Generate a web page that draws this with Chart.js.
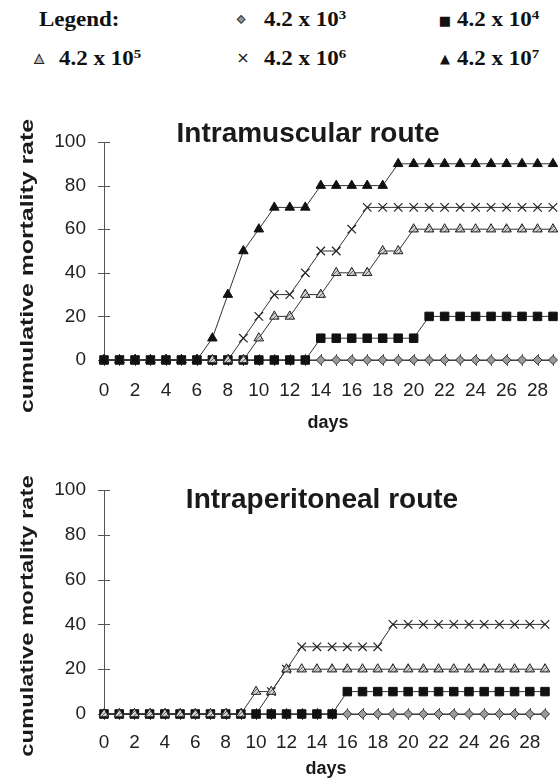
<!DOCTYPE html>
<html>
<head>
<meta charset="utf-8">
<script src="https://cdn.jsdelivr.net/npm/chart.js@4.4.0/dist/chart.umd.min.js"></script>
<style>
  body { margin: 0; background: #fff; }
  #page { position: relative; width: 558px; height: 779px; overflow: hidden; font-family: Arial, "Liberation Sans", sans-serif; color: #222; }
  .abs { position: absolute; white-space: nowrap; }
  .leg { font-family: "Liberation Serif", "Times New Roman", serif; font-weight: bold; font-size: 20px; line-height: 20px; color: #111; transform-origin: left center; transform: translateY(-50%) scaleX(1.15); }
  .leg sup { font-size: 13px; vertical-align: 7px; line-height: 0; }
  .mk { font-family: "DejaVu Sans", sans-serif; line-height: 1; transform: translate(-50%, -50%); }
  .title { font-weight: bold; font-size: 28px; line-height: 28px; color: #1a1a1a; transform: translateX(-50%); }
  .xtitle { font-weight: bold; font-size: 18px; line-height: 18px; color: #1a1a1a; transform: translateX(-50%); }
  .ytitle { font-weight: bold; font-size: 18px; line-height: 18px; color: #1a1a1a; }
  canvas { position: absolute; left: 0; }
</style>
</head>
<body>
<div id="page">
  <div class="abs leg" style="left:39px;top:19px">Legend:</div>
  <div class="abs mk" style="left:241px;top:19px;font-size:10px;color:#999;-webkit-text-stroke:1px #333">&#9670;</div>
  <div class="abs leg" style="left:264px;top:19px">4.2 x 10<sup>3</sup></div>
  <div class="abs mk" style="left:445px;top:20px;font-size:13px;color:#111">&#9632;</div>
  <div class="abs leg" style="left:457px;top:19px">4.2 x 10<sup>4</sup></div>

  <div class="abs mk" style="left:39px;top:58px;font-size:12px;color:#bbb;-webkit-text-stroke:1px #222">&#9650;</div>
  <div class="abs leg" style="left:59px;top:58px">4.2 x 10<sup>5</sup></div>
  <div class="abs mk" style="left:243px;top:58px;font-size:16px;color:#222">&#215;</div>
  <div class="abs leg" style="left:264px;top:58px">4.2 x 10<sup>6</sup></div>
  <div class="abs mk" style="left:445px;top:58px;font-size:13px;color:#111">&#9650;</div>
  <div class="abs leg" style="left:457px;top:58px">4.2 x 10<sup>7</sup></div>

  <canvas id="imChart" width="558" height="330" style="top:100px"></canvas>
  <canvas id="ipChart" width="558" height="329" style="top:450px"></canvas>

  <div class="abs title" style="left:308px;top:119px">Intramuscular route</div>
  <div class="abs title" style="left:322px;top:485px">Intraperitoneal route</div>
  <div class="abs xtitle" style="left:328px;top:413px">days</div>
  <div class="abs xtitle" style="left:326px;top:759px">days</div>
  <div class="abs ytitle" style="left:27px;top:266px;transform:translate(-50%,-50%) rotate(-90deg) scaleX(1.38)">cumulative mortality rate</div>
  <div class="abs ytitle" style="left:27px;top:616px;transform:translate(-50%,-50%) rotate(-90deg) scaleX(1.32)">cumulative mortality rate</div>
</div>
<script>
// days after infection (x categories)
const days = [0, 1, 2, 3, 4, 5, 6, 7, 8, 9, 10, 11, 12, 13, 14, 15, 16, 17, 18, 19, 20, 21, 22, 23, 24, 25, 26, 27, 28, 29];
const yTicks = [0, 20, 40, 60, 80, 100];

// intramuscular route, cumulative mortality (%) per dose
const im3 = [0, 0, 0, 0, 0, 0, 0, 0, 0, 0, 0, 0, 0, 0, 0, 0, 0, 0, 0, 0, 0, 0, 0, 0, 0, 0, 0, 0, 0, 0];
const im4 = [0, 0, 0, 0, 0, 0, 0, 0, 0, 0, 0, 0, 0, 0, 10, 10, 10, 10, 10, 10, 10, 20, 20, 20, 20, 20, 20, 20, 20, 20];
const im5 = [0, 0, 0, 0, 0, 0, 0, 0, 0, 0, 10, 20, 20, 30, 30, 40, 40, 40, 50, 50, 60, 60, 60, 60, 60, 60, 60, 60, 60, 60];
const im6 = [0, 0, 0, 0, 0, 0, 0, 0, 0, 10, 20, 30, 30, 40, 50, 50, 60, 70, 70, 70, 70, 70, 70, 70, 70, 70, 70, 70, 70, 70];
const im7 = [0, 0, 0, 0, 0, 0, 0, 10, 30, 50, 60, 70, 70, 70, 80, 80, 80, 80, 80, 90, 90, 90, 90, 90, 90, 90, 90, 90, 90, 90];

// intraperitoneal route
const ip3 = [0, 0, 0, 0, 0, 0, 0, 0, 0, 0, 0, 0, 0, 0, 0, 0, 0, 0, 0, 0, 0, 0, 0, 0, 0, 0, 0, 0, 0, 0];
const ip4 = [0, 0, 0, 0, 0, 0, 0, 0, 0, 0, 0, 0, 0, 0, 0, 0, 10, 10, 10, 10, 10, 10, 10, 10, 10, 10, 10, 10, 10, 10];
const ip5 = [0, 0, 0, 0, 0, 0, 0, 0, 0, 0, 10, 10, 20, 20, 20, 20, 20, 20, 20, 20, 20, 20, 20, 20, 20, 20, 20, 20, 20, 20];
const ip6 = [0, 0, 0, 0, 0, 0, 0, 0, 0, 0, 0, 10, 20, 30, 30, 30, 30, 30, 30, 40, 40, 40, 40, 40, 40, 40, 40, 40, 40, 40];

const AXIS = "#555";
const LINE = "#333";

// hatched grey fill for the 10^5 triangles
function hatch() {
  const c = document.createElement("canvas");
  c.width = 4; c.height = 4;
  const g = c.getContext("2d");
  g.fillStyle = "#d0d0d0";
  g.fillRect(0, 0, 4, 4);
  g.strokeStyle = "#666";
  g.lineWidth = 1;
  g.beginPath();
  g.moveTo(0, 4); g.lineTo(4, 0);
  g.stroke();
  return g.createPattern(c, "repeat");
}
const hatchFill = hatch();

const styles = {
  d3: { pointStyle: "rectRot", pointRadius: 4.5, pointBackgroundColor: "#9a9a9a", pointBorderColor: "#333", order: 5 },
  d4: { pointStyle: "rect", pointRadius: 6, pointBackgroundColor: "#111", pointBorderColor: "#111", order: 3 },
  d5: { pointStyle: "triangle", pointRadius: 5.5, pointBackgroundColor: hatchFill, pointBorderColor: "#222", order: 2 },
  d6: { pointStyle: "crossRot", pointRadius: 6, pointBackgroundColor: "#222", pointBorderColor: "#222", pointBorderWidth: 1.2, order: 4 },
  d7: { pointStyle: "triangle", pointRadius: 5.5, pointBackgroundColor: "#111", pointBorderColor: "#111", order: 1 },
};

function series(label, data, st) {
  return Object.assign({
    label, data,
    borderColor: LINE, borderWidth: 1, tension: 0,
    pointBorderWidth: 1, pointHoverRadius: st.pointRadius,
    clip: false,
  }, st);
}

// tick marks that cross the axis lines, one per category and per y tick
const crossTicks = {
  id: "crossTicks",
  beforeDatasetsDraw(chart) {
    const { ctx, scales: { x, y } } = chart;
    ctx.save();
    ctx.strokeStyle = AXIS;
    ctx.lineWidth = 1;
    ctx.beginPath();
    x.ticks.forEach((t, i) => {
      const px = Math.round(x.getPixelForTick(i)) + 0.5;
      ctx.moveTo(px, y.bottom - 6);
      ctx.lineTo(px, y.bottom + 6);
    });
    y.ticks.forEach((t, i) => {
      const py = Math.round(y.getPixelForTick(i)) + 0.5;
      ctx.moveTo(x.left - 6, py);
      ctx.lineTo(x.left + 6, py);
    });
    ctx.stroke();
    ctx.restore();
  },
};

function makeChart(id, datasets, lay) {
  return new Chart(document.getElementById(id), {
    type: "line",
    data: { labels: days, datasets },
    plugins: [crossTicks],
    options: {
      responsive: false,
      animation: false,
      devicePixelRatio: 1,
      layout: { autoPadding: false, padding: { top: lay.top, right: lay.right, left: 0, bottom: 0 } },
      plugins: { legend: { display: false }, tooltip: { enabled: false }, title: { display: false } },
      scales: {
        x: {
          type: "category",
          offset: false,
          grid: { drawOnChartArea: false, drawTicks: false },
          border: { color: AXIS, width: 1 },
          ticks: {
            autoSkip: false, maxRotation: 0, padding: lay.xPad,
            color: "#222", font: { family: "Arial, 'Liberation Sans'", size: 19 },
            callback: (v, i) => (i % 2 === 0 ? String(days[i]) : ""),
          },
          // tick padding would otherwise widen the right margin
          afterFit: (s) => { s.height = lay.xHeight; s.paddingLeft = 0; s.paddingRight = 0; },
        },
        y: {
          min: yTicks[0], max: yTicks[yTicks.length - 1],
          afterBuildTicks: (s) => { s.ticks = yTicks.map((v) => ({ value: v })); },
          grid: { drawOnChartArea: false, drawTicks: false },
          border: { color: AXIS, width: 1 },
          ticks: { padding: 18, color: "#222", font: { family: "Arial, 'Liberation Sans'", size: 19 } },
          afterFit: (s) => { s.width = lay.yWidth; },
        },
      },
    },
  });
}

makeChart("imChart", [
  series("4.2 x 10^3", im3, styles.d3),
  series("4.2 x 10^4", im4, styles.d4),
  series("4.2 x 10^5", im5, styles.d5),
  series("4.2 x 10^6", im6, styles.d6),
  series("4.2 x 10^7", im7, styles.d7),
], { top: 42, right: 5, yWidth: 104, xHeight: 70, xPad: 19 });

makeChart("ipChart", [
  series("4.2 x 10^3", ip3, styles.d3),
  series("4.2 x 10^4", ip4, styles.d4),
  series("4.2 x 10^5", ip5, styles.d5),
  series("4.2 x 10^6", ip6, styles.d6),
], { top: 40, right: 13, yWidth: 104, xHeight: 65, xPad: 17 });
</script>
</body>
</html>
